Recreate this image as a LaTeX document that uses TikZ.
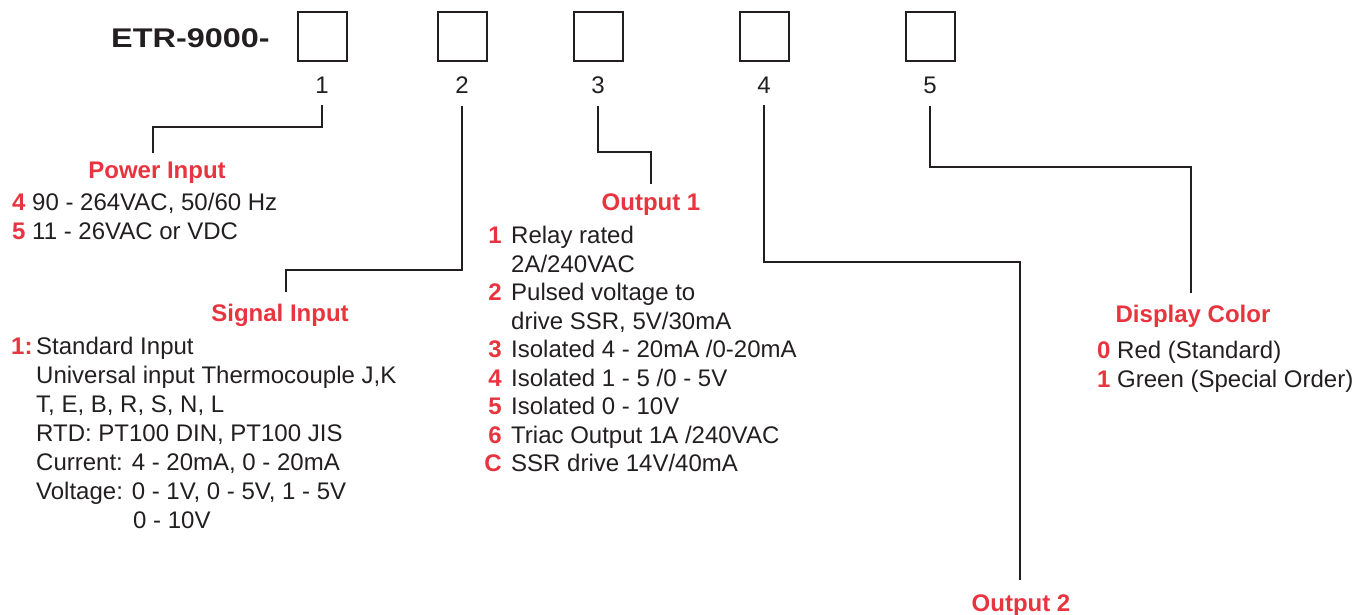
\documentclass[tikz,border=0pt]{standalone}
\usepackage{fontspec}
\usepackage{graphicx}
\setmainfont{Liberation Sans}
\definecolor{txtred}{RGB}{232,52,62}
\definecolor{ink}{RGB}{35,31,32}
\tikzset{
  body/.style={inner sep=0pt, text=ink, font=\fontsize{24}{28}\selectfont, anchor=base west},
  key/.style={inner sep=0pt, text=txtred, font=\fontsize{24}{28}\selectfont\bfseries, anchor=base west},
  keyr/.style={inner sep=0pt, text=txtred, font=\fontsize{24}{28}\selectfont\bfseries, anchor=base east},
  title/.style={inner sep=0pt, text=txtred, font=\fontsize{24}{28}\selectfont\bfseries, anchor=base},
  num/.style={inner sep=0pt, text=ink, font=\fontsize{24}{28}\selectfont},
  slot/.style={draw=ink, line width=2pt, minimum size=49pt, inner sep=0pt},
  conn/.style={draw=ink, line width=2pt},
}
\begin{document}
\begin{tikzpicture}[x=1pt,y=-1pt]
\useasboundingbox (0,0) rectangle (1356,615);
% header
\node[inner sep=0pt, anchor=base west, text=ink] (etr) at (111,47.5)
  {\scalebox{1.2}[1]{\fontsize{27}{27}\selectfont\bfseries ETR-9000-}};
\foreach \i/\x in {1/322,2/462,3/598,4/764,5/930}{
  \node[slot] (b\i) at (\x,37) {};
  \node[num] (n\i) at (\x,85) {\i};
}
% Power input
\node[title] (pw) at (157,178.6) {Power Input};
\node[key] (pw4k) at (12,210.6) {4};
\node[body] (pw4) at (32,210.6) {90 - 264VAC, 50/60 Hz};
\node[key] (pw5k) at (12,239.6) {5};
\node[body] (pw5) at (32,239.6) {11 - 26VAC or VDC};
% Signal input
\node[title] (si) at (280,321.6) {Signal Input};
\node[key] (si1k) at (11,354.6) {1:};
\node[body] (si1) at (36,354.6) {Standard Input};
\node[body] (si2) at (36,383.6) {Universal input Thermocouple J,K};
\node[body] (si3) at (36,412.6) {T, E, B, R, S, N, L};
\node[body] (si4) at (36,441.6) {RTD: PT100 DIN, PT100 JIS};
\node[body] (si5) at (36,470.6) {Current: 4 - 20mA, 0 - 20mA};
\node[body] (si6) at (36,499.6) {Voltage: 0 - 1V, 0 - 5V, 1 - 5V};
\node[body] (si7) at (133,528.6) {0 - 10V};
% Output 1
\node[title] (o1) at (651,210.6) {Output 1};
\node[keyr] (o1k1) at (502,243.6) {1};
\node[body] (o1a) at (511,243.6) {Relay rated};
\node[body] (o1b) at (511,272.1) {2A/240VAC};
\node[keyr] (o1k2) at (502,300.6) {2};
\node[body] (o1c) at (511,300.6) {Pulsed voltage to};
\node[body] (o1d) at (511,329.1) {drive SSR, 5V/30mA};
\node[keyr] (o1k3) at (502,357.6) {3};
\node[body] (o1e) at (511,357.6) {Isolated 4 - 20mA /0-20mA};
\node[keyr] (o1k4) at (502,386.1) {4};
\node[body] (o1f) at (511,386.1) {Isolated 1 - 5 /0 - 5V};
\node[keyr] (o1k5) at (502,414.6) {5};
\node[body] (o1g) at (511,414.6) {Isolated 0 - 10V};
\node[keyr] (o1k6) at (502,443.1) {6};
\node[body] (o1h) at (511,443.1) {Triac Output 1A /240VAC};
\node[keyr] (o1kc) at (502,471.6) {C};
\node[body] (o1i) at (511,471.6) {SSR drive 14V/40mA};
% Display color
\node[title] (dc) at (1193,322.6) {Display Color};
\node[key] (dc0k) at (1097,358.6) {0};
\node[body] (dc0) at (1117,358.6) {Red (Standard)};
\node[key] (dc1k) at (1097,387.6) {1};
\node[body] (dc1) at (1117,387.6) {Green (Special Order)};
% Output 2
\node[title] (o2) at (1021,611.6) {Output 2};
% connectors
\draw[conn] ([yshift=-12pt]n1.south) -- ++(0,22) -| ([xshift=-4pt,yshift=9pt]pw.north);
\draw[conn] ([yshift=-12pt]n2.south) -- ++(0,164) -| ([xshift=6pt,yshift=12pt]si.north);
\draw[conn] ([yshift=-12pt]n3.south) -- ++(0,46) -| ([yshift=10pt]o1.north);
\draw[conn] ([yshift=-12pt]n4.south) -- ++(0,157) -| ([xshift=-1pt,yshift=15pt]o2.north);
\draw[conn] ([yshift=-12pt]n5.south) -- ++(0,61) -| ([xshift=-2pt,yshift=12pt]dc.north);
\end{tikzpicture}
\end{document}
